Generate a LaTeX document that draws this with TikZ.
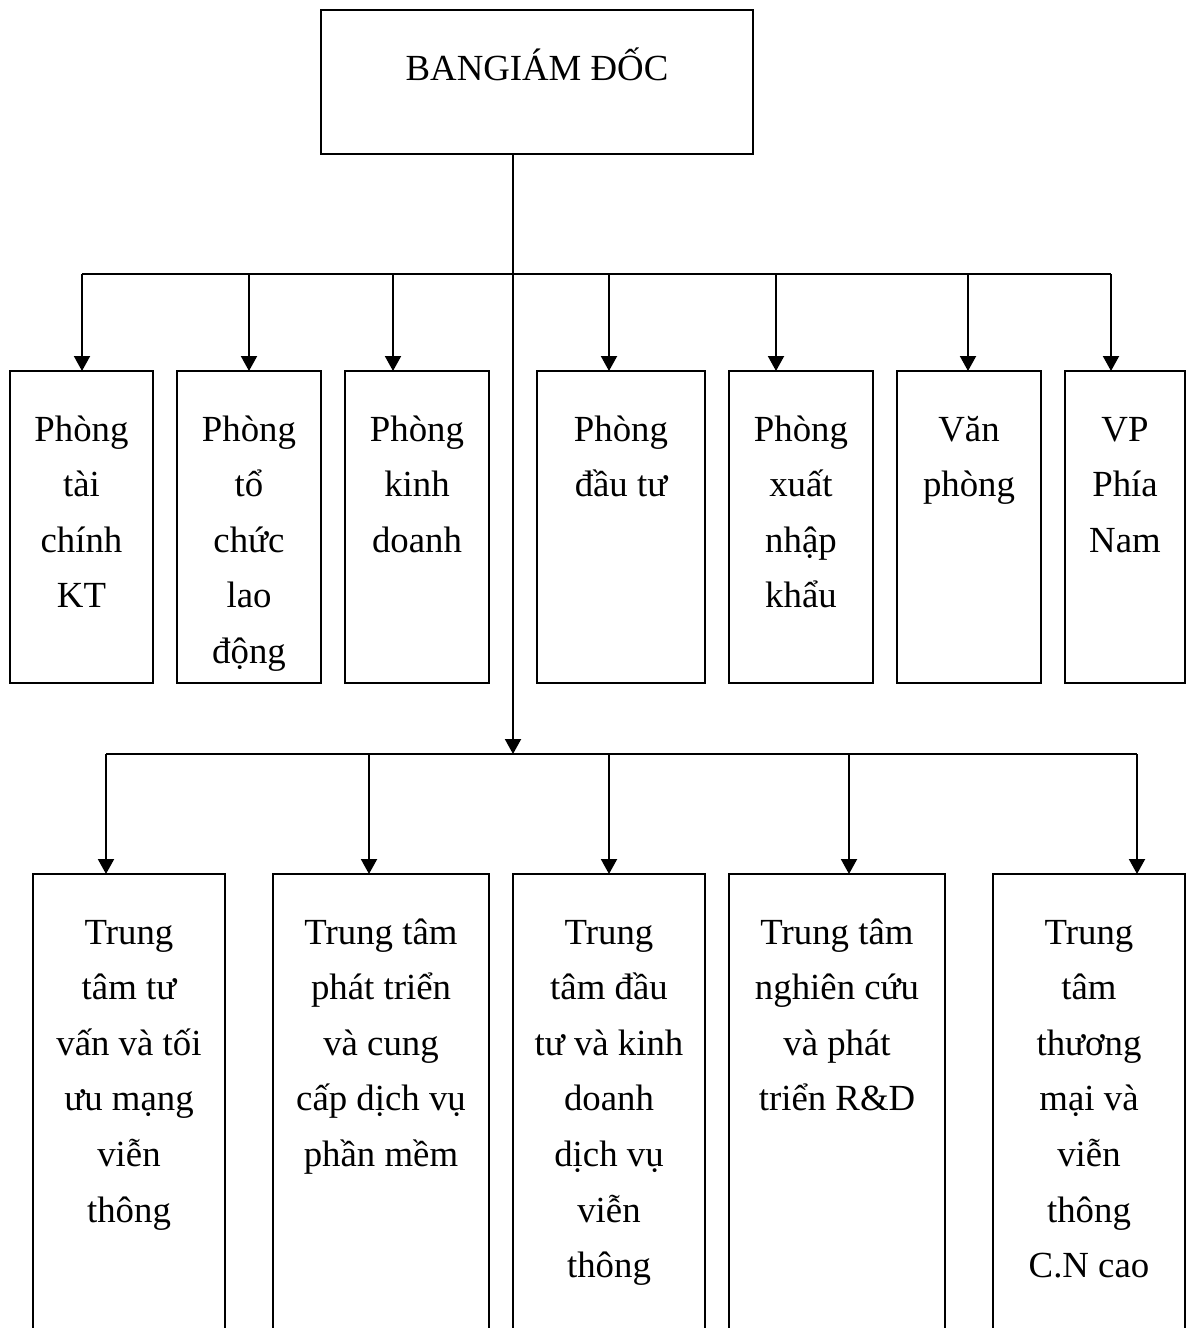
\documentclass[tikz,border=0pt]{standalone}
\usepackage{fontspec}
\setmainfont{Liberation Serif}
\usetikzlibrary{arrows.meta,fit}
\newcommand{\firstln}{\rule{0pt}{15pt}}

\begin{document}
\begin{tikzpicture}[x=0.5pt,y=-0.5pt,line width=1pt,
  font={\fontsize{18.4pt}{27.8pt}\selectfont},
  box/.style={draw,inner sep=0pt,outer sep=0pt},
  txt/.style={align=center,anchor=north,inner sep=0pt},
  arr/.style={-{Triangle[width=8pt,length=7.5pt]}}]
\useasboundingbox (0,0) rectangle (1188,1328);

% board of directors
\node[box,fit={(321,10) (753,154)}] (bgd) {};
\node[txt,anchor=base] (bgdt) at ([yshift=-35pt]bgd.north) {BANGIÁM ĐỐC};

% departments
\node[box,fit={(10,371) (153,683)}] (p1) {};
\node[box,fit={(177,371) (321,683)}] (p2) {};
\node[box,fit={(345,371) (489,683)}] (p3) {};
\node[box,fit={(537,371) (705,683)}] (p4) {};
\node[box,fit={(729,371) (873,683)}] (p5) {};
\node[box,fit={(897,371) (1041,683)}] (p6) {};
\node[box,fit={(1065,371) (1185,683)}] (p7) {};
\node[txt] (p1t) at ([yshift=-19.5pt]p1.north) {\firstln Phòng\\tài\\chính\\KT};
\node[txt] (p2t) at ([yshift=-19.5pt]p2.north) {\firstln Phòng\\tổ\\chức\\lao\\động};
\node[txt] (p3t) at ([yshift=-19.5pt]p3.north) {\firstln Phòng\\kinh\\doanh};
\node[txt] (p4t) at ([yshift=-19.5pt]p4.north) {\firstln Phòng\\đầu tư};
\node[txt] (p5t) at ([yshift=-19.5pt]p5.north) {\firstln Phòng\\xuất\\nhập\\khẩu};
\node[txt] (p6t) at ([yshift=-19.5pt]p6.north) {\firstln Văn\\phòng};
\node[txt] (p7t) at ([yshift=-19.5pt]p7.north) {\firstln VP\\Phía\\Nam};

% centres
\node[box,fit={(33,874) (225,1345)}] (c1) {};
\node[box,fit={(273,874) (489,1345)}] (c2) {};
\node[box,fit={(513,874) (705,1345)}] (c3) {};
\node[box,fit={(729,874) (945,1345)}] (c4) {};
\node[box,fit={(993,874) (1185,1345)}] (c5) {};
\node[txt] (c1t) at ([yshift=-19.5pt]c1.north) {\firstln Trung\\tâm tư\\vấn và tối\\ưu mạng\\viễn\\thông};
\node[txt] (c2t) at ([yshift=-19.5pt]c2.north) {\firstln Trung tâm\\phát triển\\và cung\\cấp dịch vụ\\phần mềm};
\node[txt] (c3t) at ([yshift=-19.5pt]c3.north) {\firstln Trung\\tâm đầu\\tư và kinh\\doanh\\dịch vụ\\viễn\\thông};
\node[txt] (c4t) at ([yshift=-19.5pt]c4.north) {\firstln Trung tâm\\nghiên cứu\\và phát\\triển R\&D};
\node[txt] (c5t) at ([yshift=-19.5pt]c5.north) {\firstln Trung\\tâm\\thương\\mại và\\viễn\\thông\\C.N cao};

% branch points
\foreach \i/\x in {1/82,2/249,3/393,4/609,5/776,6/968,7/1111}
  \coordinate (a\i) at (\x,274);
\foreach \i/\x in {1/106,2/369,3/609,4/849,5/1137}
  \coordinate (b\i) at (\x,754);
\coordinate (j) at (513,754);

% trunk and bars
\draw[arr] (bgd.south -| j) -- (j);
\draw (a1) -- (a7);
\draw (b1) -- (b5);

% arrows down to the boxes
\foreach \i in {1,...,7}
  \draw[arr] (a\i) -- (a\i |- p\i.north);
\foreach \i in {1,...,5}
  \draw[arr] (b\i) -- (b\i |- c\i.north);

\end{tikzpicture}
\end{document}
